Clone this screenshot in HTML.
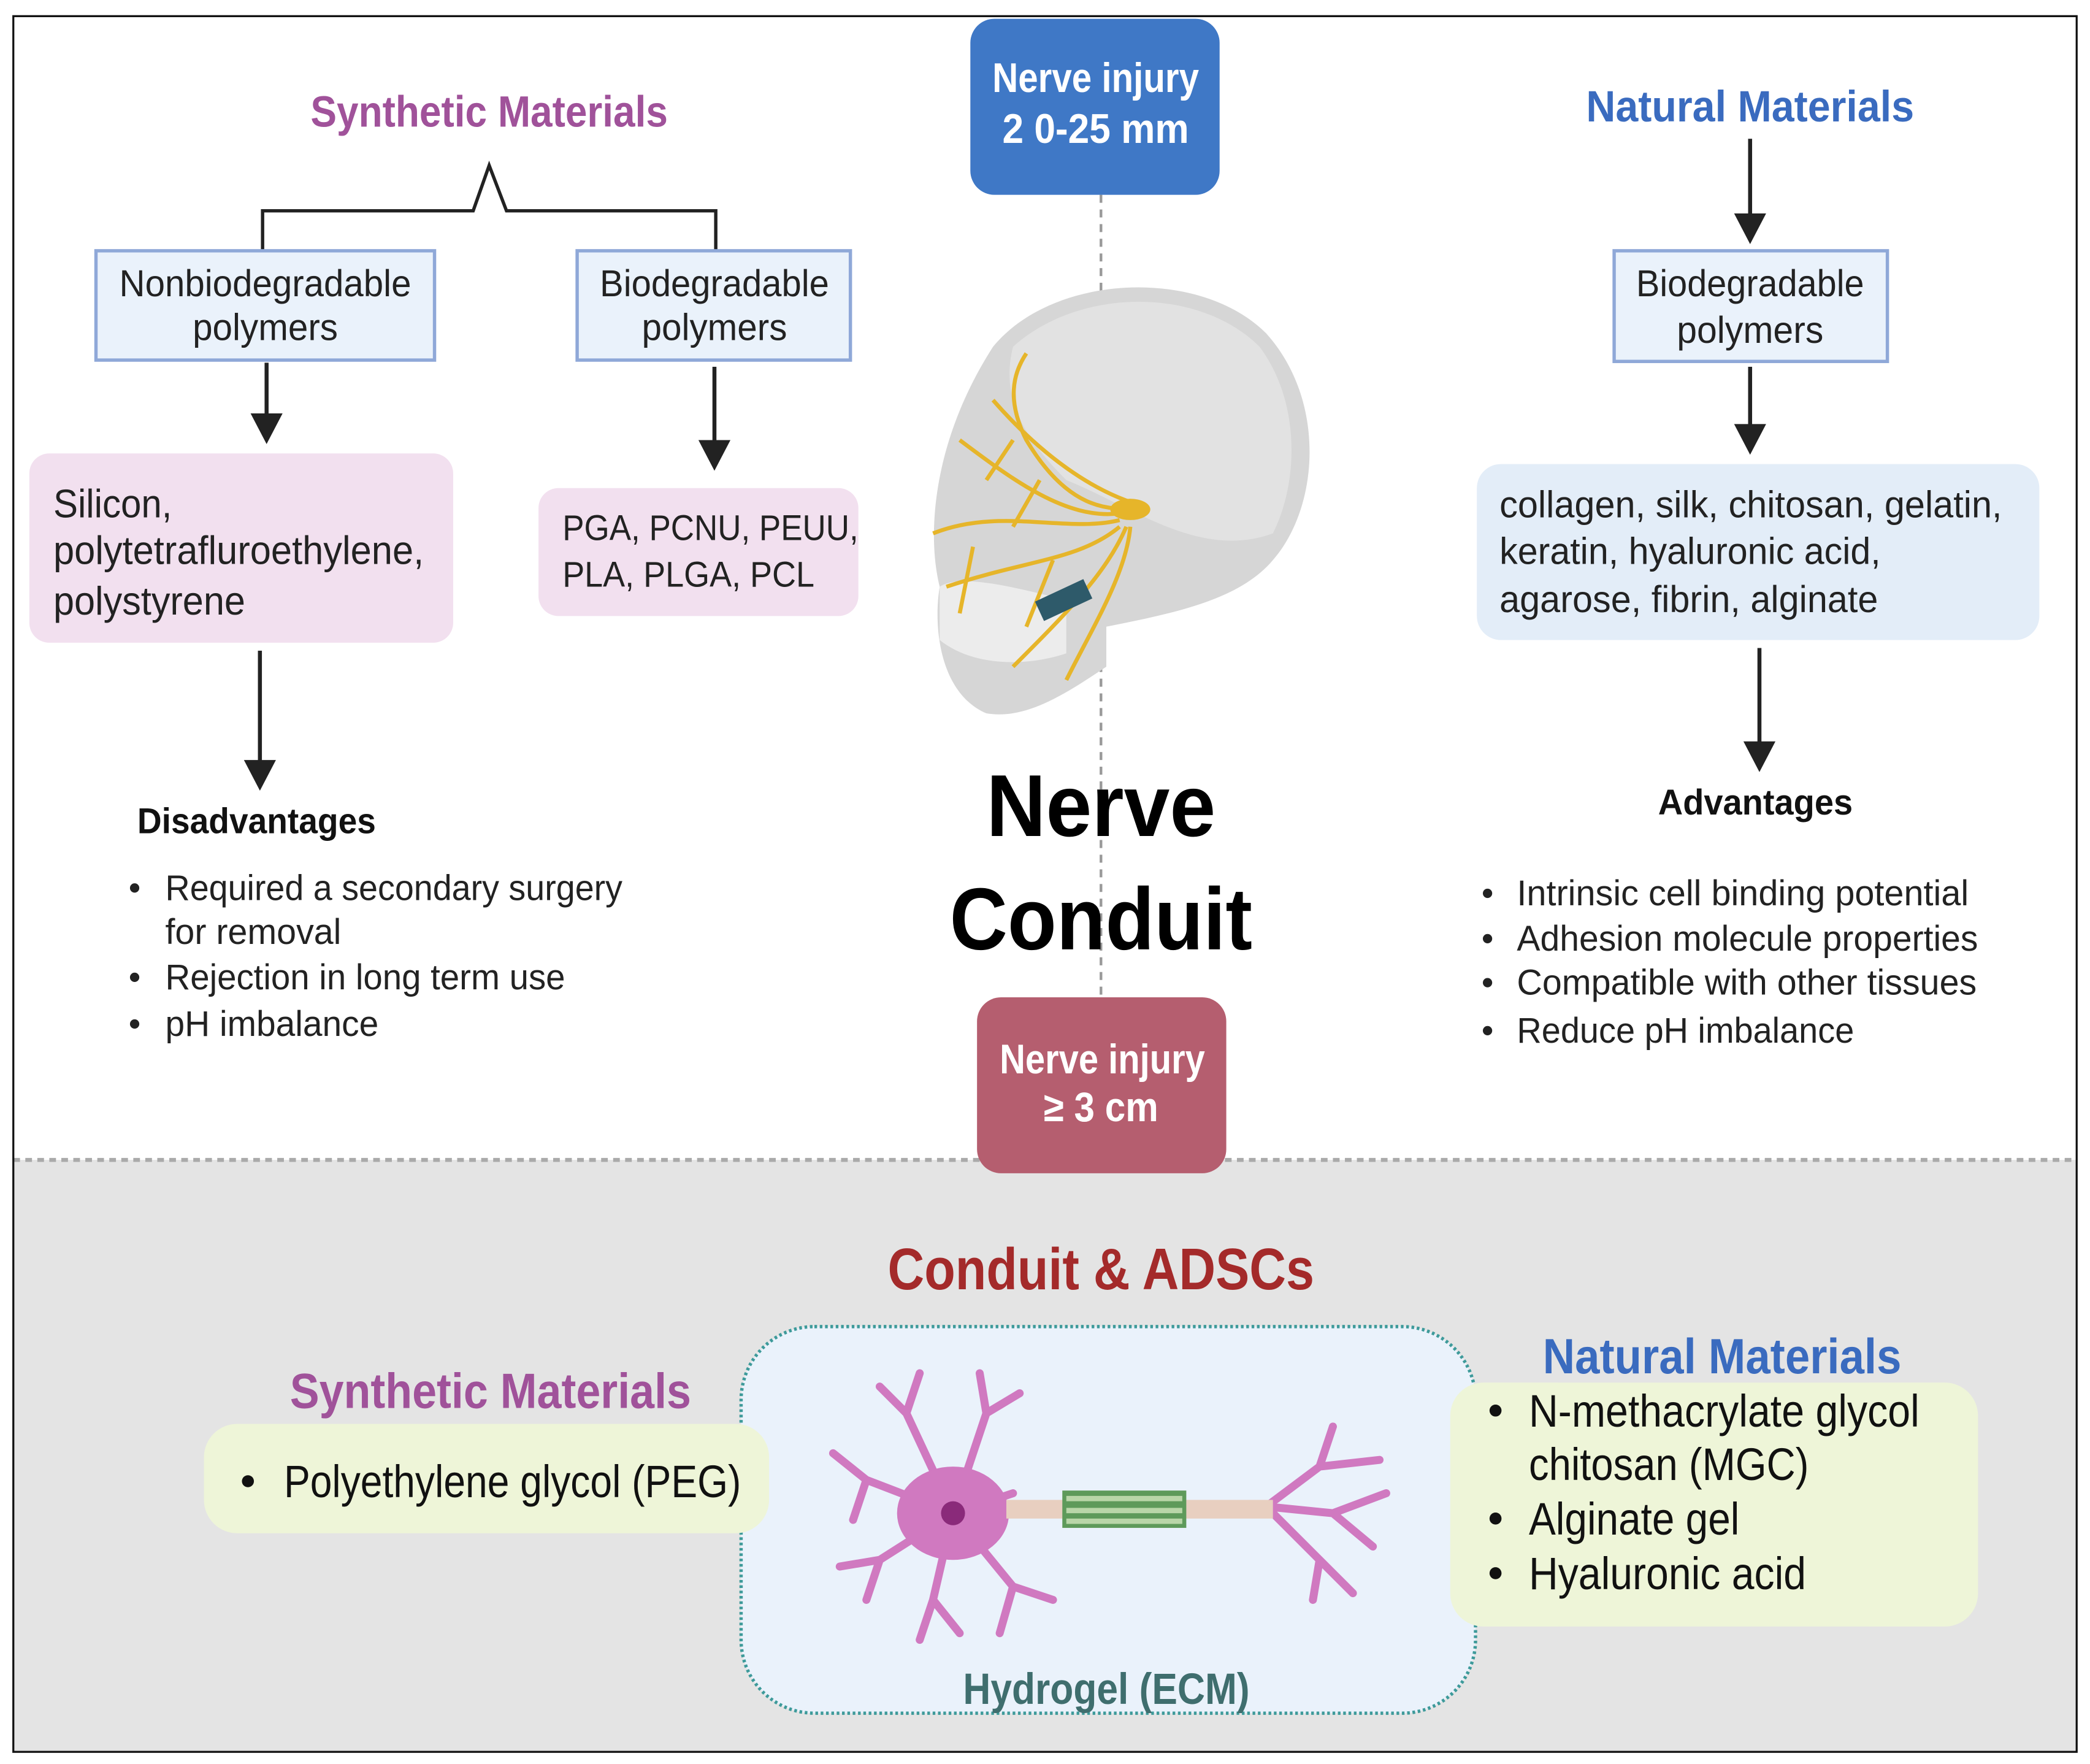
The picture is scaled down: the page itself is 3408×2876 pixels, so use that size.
<!DOCTYPE html>
<html><head><meta charset="utf-8"><style>
html,body{margin:0;padding:0;background:#fff;}
svg{display:block;}
text{font-family:"Liberation Sans Narrow","Liberation Sans",sans-serif;}
</style></head><body>
<svg width="3408" height="2876" viewBox="0 0 1568 1323" xmlns="http://www.w3.org/2000/svg">
<rect x="0" y="0" width="1568" height="1323" fill="#fff"/>
<rect x="10" y="870" width="1548" height="444" fill="#e4e4e4"/>
<line x1="10" y1="870" x2="1558" y2="870" stroke="#aaa" stroke-width="3" stroke-dasharray="5,4"/>
<rect x="10" y="12" width="1548" height="1302" fill="none" stroke="#111" stroke-width="1.5"/>

<!-- Synthetic top -->
<text x="367" y="95" font-size="33" font-weight="bold" fill="#a0529a" text-anchor="middle" textLength="268" lengthAdjust="spacingAndGlyphs">Synthetic Materials</text>
<path d="M197,188 V158 H355 L367,124 L380,158 H537 V188" fill="none" stroke="#222" stroke-width="2.5"/>
<rect x="72" y="188" width="254" height="82" fill="#eaf2fb" stroke="#8fa8d8" stroke-width="2.5"/>
<text x="199" y="222" font-size="28" text-anchor="middle" fill="#222" textLength="219" lengthAdjust="spacingAndGlyphs">Nonbiodegradable</text>
<text x="199" y="255" font-size="28" text-anchor="middle" fill="#222" textLength="109" lengthAdjust="spacingAndGlyphs">polymers</text>
<rect x="433" y="188" width="205" height="82" fill="#eaf2fb" stroke="#8fa8d8" stroke-width="2.5"/>
<text x="536" y="222" font-size="28" text-anchor="middle" fill="#222" textLength="172" lengthAdjust="spacingAndGlyphs">Biodegradable</text>
<text x="536" y="255" font-size="28" text-anchor="middle" fill="#222" textLength="109" lengthAdjust="spacingAndGlyphs">polymers</text>
<line x1="200" y1="272" x2="200" y2="315" stroke="#222" stroke-width="3"/>
<path d="M188,310 L212,310 L200,333 z" fill="#222"/>
<line x1="536" y1="275" x2="536" y2="335" stroke="#222" stroke-width="3"/>
<path d="M524,330 L548,330 L536,353 z" fill="#222"/>
<rect x="22" y="340" width="318" height="142" rx="15" fill="#f2e0ef"/>
<text x="40" y="388" font-size="30" fill="#222" textLength="89" lengthAdjust="spacingAndGlyphs">Silicon,</text>
<text x="40" y="423" font-size="30" fill="#222" textLength="278" lengthAdjust="spacingAndGlyphs">polytetrafluroethylene,</text>
<text x="40" y="461" font-size="30" fill="#222" textLength="144" lengthAdjust="spacingAndGlyphs">polystyrene</text>
<rect x="404" y="366" width="240" height="96" rx="15" fill="#f2e0ef"/>
<text x="422" y="405" font-size="27" fill="#222" textLength="222" lengthAdjust="spacingAndGlyphs">PGA, PCNU, PEUU,</text>
<text x="422" y="440" font-size="27" fill="#222" textLength="189" lengthAdjust="spacingAndGlyphs">PLA, PLGA, PCL</text>
<line x1="195" y1="488" x2="195" y2="575" stroke="#222" stroke-width="3"/>
<path d="M183,570 L207,570 L195,593 z" fill="#222"/>
<text x="103" y="625" font-size="27" font-weight="bold" fill="#111" textLength="179" lengthAdjust="spacingAndGlyphs">Disadvantages</text>
<g font-size="27" fill="#222">
<circle cx="101" cy="666" r="3.5"/><text x="124" y="675" textLength="343" lengthAdjust="spacingAndGlyphs">Required a secondary surgery</text>
<text x="124" y="708" textLength="132" lengthAdjust="spacingAndGlyphs">for removal</text>
<circle cx="101" cy="733" r="3.5"/><text x="124" y="742" textLength="300" lengthAdjust="spacingAndGlyphs">Rejection in long term use</text>
<circle cx="101" cy="768" r="3.5"/><text x="124" y="777" textLength="160" lengthAdjust="spacingAndGlyphs">pH imbalance</text>
</g>

<!-- Center -->
<line x1="826" y1="146" x2="826" y2="750" stroke="#999" stroke-width="2" stroke-dasharray="6,5"/>
<rect x="728" y="14" width="187" height="132" rx="18" fill="#3f78c6"/>
<text x="822" y="69" font-size="31" font-weight="bold" fill="#fff" text-anchor="middle" textLength="155" lengthAdjust="spacingAndGlyphs">Nerve injury</text>
<text x="822" y="107" font-size="31" font-weight="bold" fill="#fff" text-anchor="middle" textLength="140" lengthAdjust="spacingAndGlyphs">2 0-25 mm</text>
<!-- skull -->
<g>
<path d="M745,260 C790,205 900,200 950,250 C995,300 990,380 955,420 C930,450 880,460 830,470 L830,500 C800,520 770,540 740,535 C705,520 700,470 705,440 C695,400 700,330 745,260 z" fill="#d6d6d6"/>
<path d="M760,260 C810,215 900,215 945,260 C975,300 975,360 955,400 C900,420 850,380 800,360 C770,330 750,300 760,260 z" fill="#e2e2e2"/>
<path d="M705,440 C720,430 760,440 800,450 L800,490 C770,500 730,500 705,480 z" fill="#ececec"/>
<g fill="none" stroke="#e6b52a" stroke-width="3">
<path d="M860,380 C830,385 800,380 770,330 C755,300 760,280 770,265"/>
<path d="M860,380 C820,370 780,340 745,300"/>
<path d="M840,385 C800,390 760,360 720,330"/>
<path d="M840,390 C800,400 750,380 700,400"/>
<path d="M840,395 C810,420 770,420 710,440"/>
<path d="M845,395 C830,430 800,460 760,500"/>
<path d="M848,395 C845,430 820,470 800,510"/>
<path d="M760,330 L740,360 M780,360 L760,395 M730,410 L720,460 M790,420 L770,470"/>
</g>
<ellipse cx="848" cy="382" rx="15" ry="8" fill="#e6b52a"/>
<rect x="778" y="442" width="40" height="16" fill="#2e5a6a" transform="rotate(-25 798 450)"/>
</g>
<text x="826" y="627" font-size="66" font-weight="bold" fill="#000" text-anchor="middle" textLength="172" lengthAdjust="spacingAndGlyphs">Nerve</text>
<text x="826" y="712" font-size="66" font-weight="bold" fill="#000" text-anchor="middle" textLength="227" lengthAdjust="spacingAndGlyphs">Conduit</text>
<rect x="733" y="748" width="187" height="132" rx="18" fill="#b55e6f"/>
<text x="827" y="805" font-size="31" font-weight="bold" fill="#fff" text-anchor="middle" textLength="154" lengthAdjust="spacingAndGlyphs">Nerve injury</text>
<text x="826" y="841" font-size="31" font-weight="bold" fill="#fff" text-anchor="middle" textLength="86" lengthAdjust="spacingAndGlyphs">≥ 3 cm</text>

<!-- Right -->
<text x="1313" y="91" font-size="33" font-weight="bold" fill="#3a6bbf" text-anchor="middle" textLength="246" lengthAdjust="spacingAndGlyphs">Natural Materials</text>
<line x1="1313" y1="104" x2="1313" y2="165" stroke="#222" stroke-width="3"/>
<path d="M1301,160 L1325,160 L1313,183 z" fill="#222"/>
<rect x="1211" y="188" width="205" height="83" fill="#eaf2fb" stroke="#8fa8d8" stroke-width="2.5"/>
<text x="1313" y="222" font-size="28" text-anchor="middle" fill="#222" textLength="171" lengthAdjust="spacingAndGlyphs">Biodegradable</text>
<text x="1313" y="257" font-size="28" text-anchor="middle" fill="#222" textLength="110" lengthAdjust="spacingAndGlyphs">polymers</text>
<line x1="1313" y1="275" x2="1313" y2="322" stroke="#222" stroke-width="3"/>
<path d="M1301,318 L1325,318 L1313,341 z" fill="#222"/>
<rect x="1108" y="348" width="422" height="132" rx="18" fill="#e3edf8"/>
<g font-size="28" fill="#222">
<text x="1125" y="388" textLength="377" lengthAdjust="spacingAndGlyphs">collagen, silk, chitosan, gelatin,</text>
<text x="1125" y="423" textLength="286" lengthAdjust="spacingAndGlyphs">keratin, hyaluronic acid,</text>
<text x="1125" y="459" textLength="284" lengthAdjust="spacingAndGlyphs">agarose, fibrin, alginate</text>
</g>
<line x1="1320" y1="486" x2="1320" y2="560" stroke="#222" stroke-width="3"/>
<path d="M1308,556 L1332,556 L1320,579 z" fill="#222"/>
<text x="1317" y="611" font-size="27" font-weight="bold" fill="#111" text-anchor="middle" textLength="146" lengthAdjust="spacingAndGlyphs">Advantages</text>
<g font-size="27" fill="#222">
<circle cx="1116" cy="670" r="3.5"/><text x="1138" y="679" textLength="339" lengthAdjust="spacingAndGlyphs">Intrinsic cell binding potential</text>
<circle cx="1116" cy="704" r="3.5"/><text x="1138" y="713" textLength="346" lengthAdjust="spacingAndGlyphs">Adhesion molecule properties</text>
<circle cx="1116" cy="737" r="3.5"/><text x="1138" y="746" textLength="345" lengthAdjust="spacingAndGlyphs">Compatible with other tissues</text>
<circle cx="1116" cy="773" r="3.5"/><text x="1138" y="782" textLength="253" lengthAdjust="spacingAndGlyphs">Reduce pH imbalance</text>
</g>

<!-- Bottom -->
<text x="826" y="967" font-size="44" font-weight="bold" fill="#a42a2a" text-anchor="middle" textLength="320" lengthAdjust="spacingAndGlyphs">Conduit &amp; ADSCs</text>
<rect x="556" y="995" width="551" height="290" rx="55" fill="#eaf2fb" stroke="#3d9a9a" stroke-width="2.5" stroke-dasharray="2,2"/>
<text x="830" y="1278" font-size="33" font-weight="bold" fill="#3f6e6e" text-anchor="middle" textLength="215" lengthAdjust="spacingAndGlyphs">Hydrogel (ECM)</text>
<text x="368" y="1056" font-size="37" font-weight="bold" fill="#a0529a" text-anchor="middle" textLength="301" lengthAdjust="spacingAndGlyphs">Synthetic Materials</text>
<rect x="153" y="1068" width="424" height="82" rx="25" fill="#eef5d8"/>
<circle cx="186" cy="1111" r="4.5" fill="#111"/>
<text x="213" y="1123" font-size="34" fill="#111" textLength="343" lengthAdjust="spacingAndGlyphs">Polyethylene glycol (PEG)</text>
<text x="1292" y="1030" font-size="37" font-weight="bold" fill="#3a6bbf" text-anchor="middle" textLength="269" lengthAdjust="spacingAndGlyphs">Natural Materials</text>
<rect x="1088" y="1037" width="396" height="183" rx="25" fill="#eef5d8"/>
<g font-size="34" fill="#111">
<circle cx="1122" cy="1058" r="4.5"/><text x="1147" y="1070" textLength="293" lengthAdjust="spacingAndGlyphs">N-methacrylate glycol</text>
<text x="1147" y="1110" textLength="210" lengthAdjust="spacingAndGlyphs">chitosan (MGC)</text>
<circle cx="1122" cy="1139" r="4.5"/><text x="1147" y="1151" textLength="158" lengthAdjust="spacingAndGlyphs">Alginate gel</text>
<circle cx="1122" cy="1180" r="4.5"/><text x="1147" y="1192" textLength="208" lengthAdjust="spacingAndGlyphs">Hyaluronic acid</text>
</g>
<!-- neuron -->
<g stroke="#d079c0" stroke-width="6" fill="none" stroke-linecap="round">
<path d="M715,1135 L680,1060 L660,1040 M680,1060 L690,1030"/>
<path d="M715,1135 L740,1060 L735,1030 M740,1060 L765,1045"/>
<path d="M715,1135 L650,1110 L625,1090 M650,1110 L640,1140"/>
<path d="M715,1135 L660,1170 L630,1175 M660,1170 L650,1200"/>
<path d="M715,1135 L700,1200 L690,1230 M700,1200 L720,1225"/>
<path d="M715,1135 L760,1190 L790,1200 M760,1190 L750,1225"/>
<path d="M715,1135 L760,1120"/>
<path d="M950,1130 L990,1100 L1000,1070 M990,1100 L1035,1095 M950,1130 L1000,1135 L1040,1120 M950,1130 L990,1170 L1015,1195 M990,1170 L985,1200 M1000,1135 L1030,1160"/>
</g>
<ellipse cx="715" cy="1135" rx="42" ry="35" fill="#d079c0"/>
<circle cx="715" cy="1135" r="9" fill="#8a2a7a"/>
<rect x="755" y="1125" width="200" height="14" fill="#e8cfc0"/>
<rect x="797" y="1118" width="93" height="28" fill="#5e9a5a"/>
<g fill="#b9d6a8"><rect x="800" y="1122" width="87" height="4"/><rect x="800" y="1131" width="87" height="4"/><rect x="800" y="1139" width="87" height="4"/></g>
</svg>
</body></html>
